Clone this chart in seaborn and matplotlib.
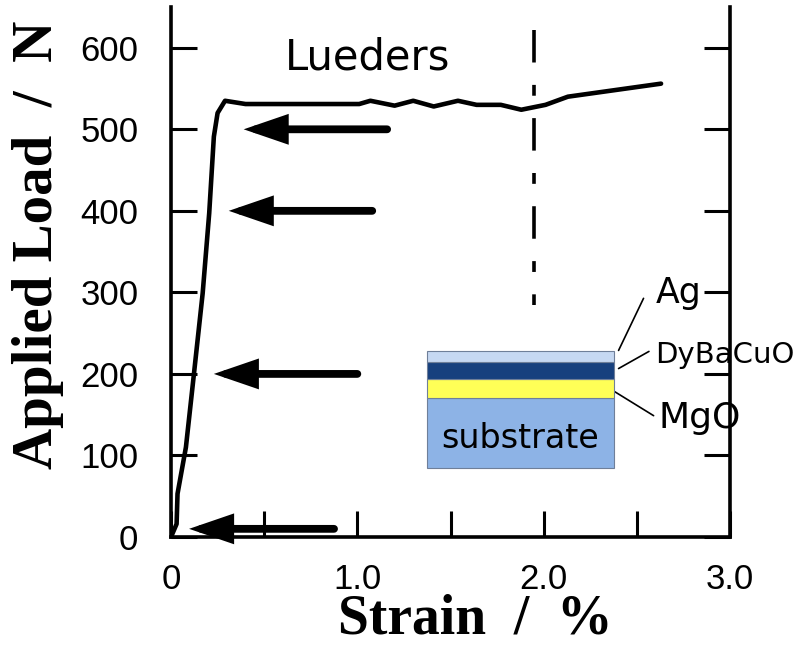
import matplotlib
matplotlib.use("Agg")
import matplotlib.pyplot as plt
from matplotlib import font_manager
import seaborn as sns
import pandas as pd

# ---------------- data ----------------
strain = [0.0, 0.03, 0.035, 0.08, 0.125, 0.17, 0.205, 0.23, 0.25, 0.29,
          0.40, 1.01, 1.07, 1.20, 1.30, 1.41, 1.54, 1.64, 1.77, 1.88,
          2.01, 2.13, 2.38, 2.63]
load = [0, 16, 53, 110, 204, 299, 397, 491, 520, 535,
        531, 531, 535, 529, 535, 528, 535, 530, 530, 524,
        530, 540, 548, 556]

arrow_load = [500, 400, 200, 10]
arrow_tip = [0.39, 0.31, 0.23, 0.097]
arrow_tail = [1.16, 1.08, 1.00, 0.875]

lueders_strain = 1.95
lueders_range = [622, 284]

layer_names = ["substrate", "MgO", "DyBaCuO", "Ag"]
layer_bottom = [85, 171, 194, 215]
layer_height = [86, 23, 21, 13]
layer_colors = ["#8db3e6", "#ffff57", "#17407e", "#c6d8f2"]
inset_left = 1.373
inset_width = 1.002

label_lines = {  # from layer edge to label
    "Ag": ([2.402, 2.536], [228.8, 292.7]),
    "DyBaCuO": ([2.402, 2.565], [206.6, 227.6]),
    "MgO": ([2.380, 2.590], [178.4, 148.8]),
}
label_pos = {"Ag": (2.60, 287, 25), "DyBaCuO": (2.60, 214, 21), "MgO": (2.617, 134, 26)}

xticks = [0, 0.5, 1.0, 1.5, 2.0, 2.5, 3.0]
xticklabels = ["0", "", "1.0", "", "2.0", "", "3.0"]
yticks = [0, 100, 200, 300, 400, 500, 600]
yticklabels = ["0", "100", "200", "300", "400", "500", "600"]

# ---------------- style ----------------
sns.set_style("ticks")
names = {f.name for f in font_manager.fontManager.ttflist}
tick_family = "Liberation Sans Narrow" if "Liberation Sans Narrow" in names else "Liberation Sans"
plt.rcParams["font.family"] = ["DejaVu Sans"]
for k in ["text.color", "axes.labelcolor", "xtick.color", "ytick.color", "axes.edgecolor"]:
    plt.rcParams[k] = "black"

fig = plt.figure(figsize=(7.99, 6.46), dpi=100)
ax = fig.add_axes([171 / 799, 1 - 537 / 646, (730 - 171) / 799, (537 - 7) / 646])

df = pd.DataFrame({"strain": strain, "load": load})
sns.lineplot(data=df, x="strain", y="load", sort=False, estimator=None,
             color="black", linewidth=3.3, ax=ax, solid_joinstyle="round")

# Lueders end marker (dash-dot)
ax.plot([lueders_strain, lueders_strain], lueders_range, color="black",
        linewidth=2.6, dashes=(9.0, 6.2, 3.0, 6.2), dash_capstyle="butt")

# arrows
for yv, tip, tail in zip(arrow_load, arrow_tip, arrow_tail):
    ax.annotate("", xy=(tip, yv), xytext=(tail, yv),
                arrowprops=dict(arrowstyle="-|>,head_length=2.1,head_width=0.72",
                                color="black", lw=5.6, shrinkA=0, shrinkB=0,
                                joinstyle="miter"))

# layered inset as stacked bar
ax.bar([inset_left] * 4, layer_height, bottom=layer_bottom, width=inset_width,
       align="edge", color=layer_colors, edgecolor="#6f7f99", linewidth=0.8, zorder=3)
ax.text(inset_left + inset_width / 2, 109.5, "substrate", ha="center", va="baseline",
        fontsize=24, color="black", zorder=4)
for name, (xs, ys) in label_lines.items():
    ax.plot(xs, ys, color="black", linewidth=1.2, clip_on=False)
for name, (xv, yv, fs) in label_pos.items():
    ax.text(xv, yv, name, ha="left", va="baseline", fontsize=fs, clip_on=False)

ax.text(0.61, 573, "Lueders", ha="left", va="baseline", fontsize=30)

# axes
ax.set_xlim(0, 3.0)
ax.set_ylim(0, 650)
ax.set_xticks(xticks)
ax.set_xticklabels(xticklabels, fontfamily=tick_family, fontsize=25)
ax.set_yticks(yticks)
ax.set_yticklabels(yticklabels, fontfamily=tick_family, fontsize=25)
ax.tick_params(axis="both", direction="in", length=19, width=2.2, color="black",
               labelcolor="black")
ax.tick_params(axis="y", right=True, pad=23.5)
ax.tick_params(axis="x", pad=19)
for s in ["left", "right", "bottom"]:
    ax.spines[s].set_linewidth(2.6)
    ax.spines[s].set_color("black")
ax.spines["top"].set_visible(False)

ax.set_xlabel("Strain  /  %", fontfamily="Liberation Serif", fontweight="bold", fontsize=40,
              color="black")
ax.set_ylabel("Applied Load  /  N", fontfamily="Liberation Serif", fontweight="bold", fontsize=41,
              color="black")
ax.xaxis.set_label_coords(0.544, -0.106)
ax.xaxis.label.set_va("top")
ax.yaxis.set_label_coords(-0.192, 0.551)

fig.savefig("out.png", dpi=100)
